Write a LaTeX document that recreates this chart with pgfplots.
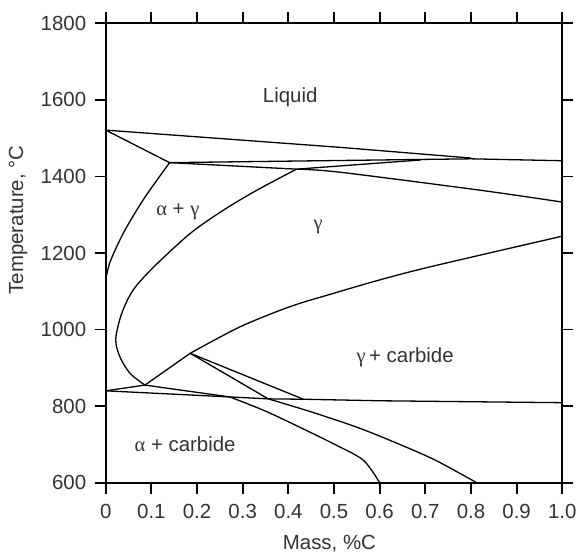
\documentclass[border=0pt]{standalone}
\usepackage{pgfplots}
\pgfplotsset{compat=1.18}
\usepackage{fontspec}
\setmainfont{Liberation Sans}
\newfontfamily\grk{Liberation Serif}
\newcommand{\fs}{\fontsize{20.5}{24}\selectfont}
\begin{document}
\begin{tikzpicture}
\begin{axis}[
  name=ax,
  scale only axis, width=456.6bp, height=459.4bp,
  xmin=0, xmax=1, ymin=600, ymax=1800,
  xtick={0,0.1,0.2,0.3,0.4,0.5,0.6,0.7,0.8,0.9,1.0},
  xticklabels={0,0.1,0.2,0.3,0.4,0.5,0.6,0.7,0.8,0.9,1.0},
  ytick={600,800,1000,1200,1400,1600,1800},
  /pgf/number format/1000 sep={},
  /pgf/number format/assume math mode=true,
  tick align=outside, tick pos=both,
  major tick length=11bp,
  every tick/.style={black, line width=1.8bp},
  axis line style={line width=1.8bp},
  tick label style={font=\fs, text=black!80},
  yticklabel style={xshift=-5bp},
  xticklabel style={yshift=-7bp},
  xlabel={Mass, \%C},
  ylabel={Temperature, °C},
  label style={font=\fs, text=black!80},
  xlabel style={at={(axis description cs:0.49,-0.133)}, anchor=center},
  ylabel style={at={(axis description cs:-0.192,0.572)}, anchor=center},
  cycle list={{black, line width=1.3bp, mark=none}},
  clip=false,
]
\pgfplotsset{ln/.style={black, line width=1.3bp, mark=none}}
% liquidus / high temperature lines
\addplot[ln] coordinates {(0,1521)(0.513,1476)(0.8,1448)};
\addplot[ln] coordinates {(0,1521)(0.14,1436)};
\addplot[ln] coordinates {(0.14,1436)(0.8,1446)(1.0,1441)};
\addplot[ln] coordinates {(0.14,1436)(0.418,1419)};
\addplot[ln, smooth] coordinates {(0.418,1419)(0.513,1411)(0.82,1364)(1.0,1333)};
\addplot[ln] coordinates {(0.418,1419)(0.69,1443)};
% alpha+gamma left boundary
\addplot[ln, smooth] coordinates {(0,1130)(0.01,1178)(0.04,1255)(0.08,1335)(0.115,1395)(0.14,1436)};
% gamma C-curve
\addplot[ln, smooth] coordinates {(0.418,1419)(0.331,1364)(0.258,1312)(0.185,1251)(0.104,1162)(0.06,1103)(0.035,1042)(0.022,975)(0.031,929)(0.053,886)(0.086,855)};
% Acm-like curve
\addplot[ln] coordinates {(0.086,855)(0.185,938)};
\addplot[ln, smooth] coordinates {(0.185,938)(0.294,1007)(0.404,1060)(0.5,1095)(0.601,1130)(0.711,1164)(1.0,1244)};
% lower lines
\addplot[ln] coordinates {(0,840)(0.086,855)};
\addplot[ln] coordinates {(0,840)(0.272,824)(0.356,819)(0.433,818)(0.6,814)(1.0,809)};
\addplot[ln] coordinates {(0.086,855)(0.272,824)};
\addplot[ln, smooth] coordinates {(0.272,824)(0.35,787)(0.43,742)(0.5,701)(0.564,659)(0.6,600)};
\addplot[ln] coordinates {(0.185,938)(0.433,818)};
\addplot[ln] coordinates {(0.185,938)(0.356,819)};
\addplot[ln, smooth] coordinates {(0.356,819)(0.45,785)(0.55,745)(0.63,707)(0.72,660)(0.8125,600)};
% labels
\node[font=\fs, text=black!80] at (axis cs:0.404,1607) {Liquid};
\node[font=\fs, text=black!80] at (axis cs:0.158,1307) {{\grk α} + {\grk γ}};
\node[font=\fs, text=black!80] at (axis cs:0.465,1268) {{\grk γ}};
\node[font=\fs, text=black!80] at (axis cs:0.656,928) {{\grk γ}\,+ carbide};
\node[font=\fs, text=black!80] at (axis cs:0.174,701) {{\grk α} + carbide};
\coordinate (bl) at (rel axis cs:0,0);
\coordinate (tr) at (rel axis cs:1,1);
\end{axis}
\pgfresetboundingbox
\useasboundingbox ([xshift=-105.7bp, yshift=-71.3bp]bl) rectangle ([xshift=18.7bp, yshift=23.3bp]tr);
\end{tikzpicture}
\end{document}
